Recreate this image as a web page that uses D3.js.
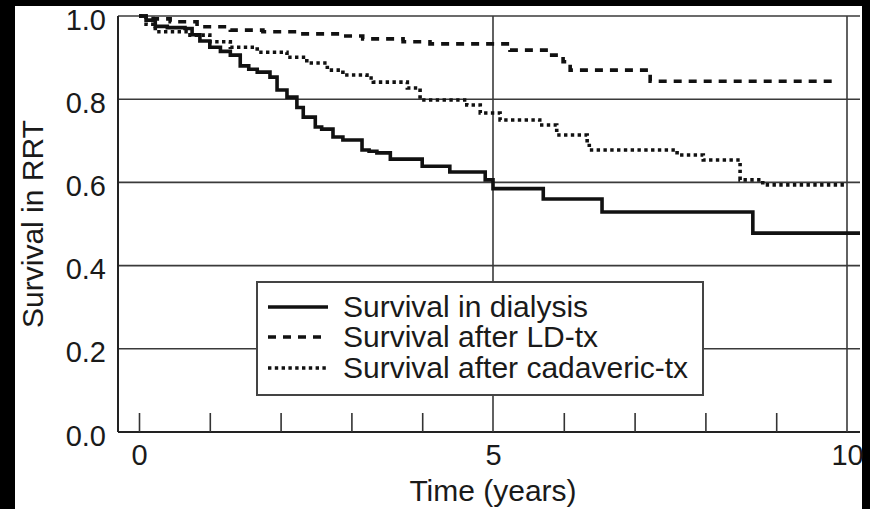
<!DOCTYPE html>
<html>
<head>
<meta charset="utf-8">
<script src="https://cdn.jsdelivr.net/npm/d3@7"></script>
<style>
  html, body { margin: 0; padding: 0; background: #000; }
  svg { display: block; }
  text { font-family: "Liberation Sans", Arial, Helvetica, sans-serif; fill: #1a1a1a; }
</style>
</head>
<body>
<svg id="chart" width="870" height="509"></svg>
<script>
// ---- data ----
const dialysisTime = [0, 0.1, 0.23, 0.4, 0.65, 0.75, 0.86, 1.0, 1.15, 1.29, 1.43, 1.55, 1.67, 1.85, 1.95, 2.09, 2.23, 2.32, 2.49, 2.58, 2.74, 2.88, 3.15, 3.25, 3.36, 3.55, 4.0, 4.39, 4.89, 5.0, 5.71, 6.54, 8.67, 10.2];
const dialysisSurv = [1.0, 0.99, 0.975, 0.972, 0.97, 0.955, 0.94, 0.925, 0.915, 0.906, 0.88, 0.872, 0.865, 0.853, 0.822, 0.805, 0.78, 0.757, 0.733, 0.728, 0.709, 0.702, 0.678, 0.675, 0.671, 0.656, 0.639, 0.625, 0.606, 0.585, 0.56, 0.529, 0.478, 0.478];

const ldTime = [0, 0.2, 0.44, 0.82, 1.29, 1.75, 2.23, 2.88, 3.16, 3.73, 4.11, 5.24, 5.8, 5.99, 6.09, 7.22, 9.83];
const ldSurv = [1.0, 0.993, 0.986, 0.974, 0.966, 0.962, 0.957, 0.952, 0.945, 0.938, 0.933, 0.918, 0.906, 0.89, 0.87, 0.843, 0.843];

const cadTime = [0, 0.1, 0.23, 0.72, 1.0, 1.29, 1.67, 2.09, 2.37, 2.66, 2.88, 3.22, 3.31, 3.79, 3.97, 4.63, 4.82, 5.1, 5.66, 5.9, 6.33, 6.36, 7.6, 7.97, 8.49, 8.81, 9.97];
const cadSurv = [1.0, 0.98, 0.962, 0.954, 0.938, 0.925, 0.913, 0.901, 0.887, 0.870, 0.858, 0.851, 0.841, 0.827, 0.798, 0.786, 0.767, 0.75, 0.738, 0.714, 0.695, 0.678, 0.666, 0.654, 0.606, 0.594, 0.594];

const xMinorTicks = [0, 1, 2, 3, 4, 6, 7, 8, 9];
const xMajorLines = [5, 10];
const xTickLabels = [0, 5, 10];
const yTicks = [0.0, 0.2, 0.4, 0.6, 0.8, 1.0];
const legendLabels = ["Survival in dialysis", "Survival after LD-tx", "Survival after cadaveric-tx"];

// ---- layout ----
const svg = d3.select("#chart");
const panel = { left: 15, top: 6, right: 862, bottom: 509 };
const plotLeft = 118, plotRight = 860;

const x = d3.scaleLinear().domain([0, 10]).range([139, 847]);
const y = d3.scaleLinear().domain([0, 1]).range([432, 16]);

const gridColor = "#3a3a3a";

svg.append("rect")
  .attr("x", panel.left).attr("y", panel.top)
  .attr("width", panel.right - panel.left).attr("height", panel.bottom - panel.top)
  .attr("fill", "#fff");

// horizontal gridlines
svg.append("g").selectAll("line").data(yTicks).join("line")
  .attr("x1", plotLeft).attr("x2", plotRight)
  .attr("y1", d => y(d)).attr("y2", d => y(d))
  .attr("stroke", d => d === 0 ? "#222" : gridColor)
  .attr("stroke-width", d => d === 0 ? 2 : 1.6);

// vertical full lines at 5 and 10
svg.append("g").selectAll("line").data(xMajorLines).join("line")
  .attr("x1", d => x(d)).attr("x2", d => x(d))
  .attr("y1", y(1)).attr("y2", y(0))
  .attr("stroke", gridColor).attr("stroke-width", 1.6);

// left axis line
svg.append("line")
  .attr("x1", plotLeft).attr("x2", plotLeft)
  .attr("y1", y(1)).attr("y2", y(0))
  .attr("stroke", "#222").attr("stroke-width", 2);

// minor x ticks (pointing up)
const minorAxis = d3.axisBottom(x).tickValues(xMinorTicks).tickSize(-19).tickFormat("");
const gMinor = svg.append("g").attr("transform", `translate(0,${y(0)})`).call(minorAxis);
gMinor.select(".domain").remove();
gMinor.selectAll(".tick line").attr("stroke", "#333").attr("stroke-width", 1.6);

// x tick labels
const labelAxis = d3.axisBottom(x).tickValues(xTickLabels).tickSize(0).tickPadding(12).tickFormat(d3.format("d"));
const gLab = svg.append("g").attr("transform", `translate(0,${y(0)})`).call(labelAxis);
gLab.select(".domain").remove();
gLab.selectAll(".tick text").attr("font-size", 29).attr("fill", "#1a1a1a")
  .style("font-family", '"Liberation Sans", Arial, sans-serif');

// y tick labels
const yAxis = d3.axisLeft(y).tickValues(yTicks).tickSize(0).tickPadding(12).tickFormat(d3.format(".1f"));
const gY = svg.append("g").attr("transform", `translate(${plotLeft},0)`).call(yAxis);
gY.select(".domain").remove();
gY.selectAll(".tick text").attr("font-size", 29).attr("dy", "0.45em").attr("fill", "#1a1a1a")
  .style("font-family", '"Liberation Sans", Arial, sans-serif');

// axis titles
svg.append("text")
  .attr("x", x(5)).attr("y", 501)
  .attr("text-anchor", "middle").attr("font-size", 30)
  .text("Time (years)");

svg.append("text")
  .attr("transform", `translate(43,${(y(0) + y(1)) / 2}) rotate(-90)`)
  .attr("text-anchor", "middle").attr("font-size", 30)
  .text("Survival in RRT");

// curves
const series = [
  { t: dialysisTime, s: dialysisSurv, dash: null, width: 3.6 },
  { t: ldTime, s: ldSurv, dash: "8,7", width: 3.6 },
  { t: cadTime, s: cadSurv, dash: "3.4,3.4", width: 3.6 }
];
const line = d3.line().x(d => x(d[0])).y(d => y(d[1])).curve(d3.curveStepAfter);

svg.append("defs").append("clipPath").attr("id", "clip")
  .append("rect").attr("x", plotLeft).attr("y", 0).attr("width", plotRight - plotLeft).attr("height", 440);

const gCurves = svg.append("g").attr("clip-path", "url(#clip)");
series.forEach(sr => {
  const pts = sr.t.map((t, i) => [t, sr.s[i]]);
  gCurves.append("path")
    .attr("d", line(pts))
    .attr("fill", "none")
    .attr("stroke", "#111")
    .attr("stroke-width", sr.width)
    .attr("stroke-dasharray", sr.dash);
});

// legend
const lg = svg.append("g");
lg.append("rect")
  .attr("x", 257).attr("y", 282).attr("width", 446).attr("height", 113)
  .attr("fill", "#fff").attr("stroke", "#444").attr("stroke-width", 2);
const rowY = [307, 337, 368];
legendLabels.forEach((lab, i) => {
  lg.append("line")
    .attr("x1", 268).attr("x2", 328)
    .attr("y1", rowY[i]).attr("y2", rowY[i])
    .attr("stroke", "#111").attr("stroke-width", series[i].width)
    .attr("stroke-dasharray", series[i].dash);
  lg.append("text")
    .attr("x", 343).attr("y", rowY[i] + 10)
    .attr("font-size", 30)
    .text(lab);
});
</script>
</body>
</html>
